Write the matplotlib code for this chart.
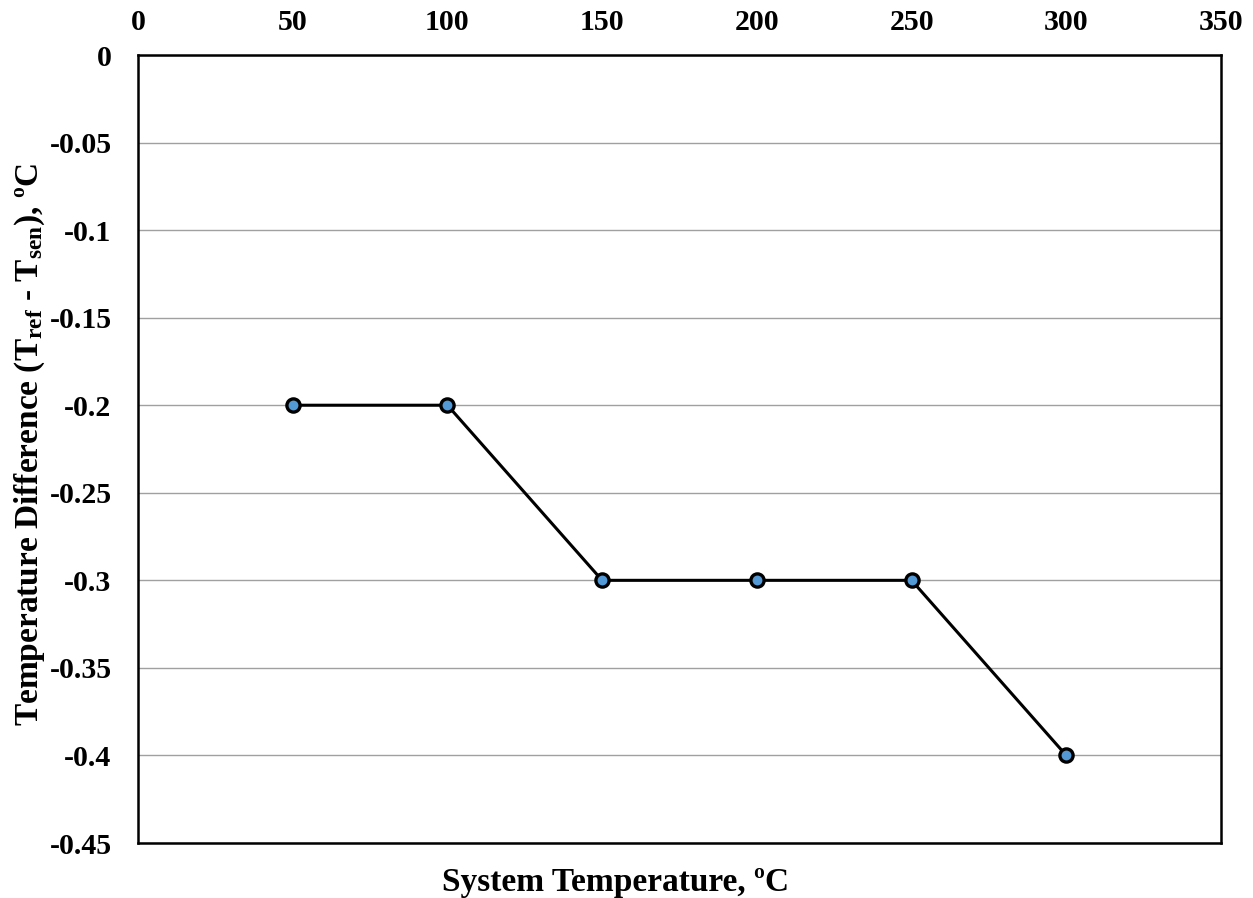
import matplotlib.pyplot as plt
import numpy as np

plt.rcParams['font.family'] = ['Liberation Serif', 'DejaVu Serif']
plt.rcParams['font.weight'] = 'bold'
plt.rcParams['mathtext.fontset'] = 'custom'
plt.rcParams['mathtext.rm'] = 'Liberation Serif:bold'
plt.rcParams['mathtext.it'] = 'Liberation Serif:bold'
plt.rcParams['mathtext.bf'] = 'Liberation Serif:bold'

# data
system_temp = [50, 100, 150, 200, 250, 300]
temp_diff = [-0.2, -0.2, -0.3, -0.3, -0.3, -0.4]
x_ticks = [0, 50, 100, 150, 200, 250, 300, 350]
y_ticks = [0, -0.05, -0.1, -0.15, -0.2, -0.25, -0.3, -0.35, -0.4, -0.45]
y_labels = ['0', '-0.05', '-0.1', '-0.15', '-0.2', '-0.25', '-0.3', '-0.35', '-0.4', '-0.45']

fig = plt.figure(figsize=(12.53, 8.98), dpi=100)
ax = fig.add_axes([138/1253, 1-843/898, (1221-138)/1253, (843-55)/898])

ax.plot(system_temp, temp_diff, color='black', lw=2.2, marker='o',
        markersize=9.5, markerfacecolor='#5399d6', markeredgecolor='black',
        markeredgewidth=2.4, zorder=3)

ax.set_xlim(0, 350)
ax.set_ylim(-0.45, 0)
ax.set_xticks(x_ticks)
ax.set_yticks(y_ticks)
ax.set_yticklabels(y_labels)
ax.xaxis.tick_top()
ax.tick_params(axis='both', length=0, labelsize=21.5)
ax.tick_params(axis='y', pad=19)
ax.tick_params(axis='x', pad=14)
ax.yaxis.grid(True, color='#a0a0a0', lw=1)
ax.set_axisbelow(True)
for s in ax.spines.values():
    s.set_linewidth(1.8)
    s.set_color('black')

ax.set_xlabel('System Temperature, ºC', fontsize=24, fontweight='bold')
ax.xaxis.set_label_position('bottom')
ax.xaxis.set_label_coords(0.441, -0.0495, transform=ax.transAxes)
ax.xaxis.label.set_verticalalignment('center')
ax.set_ylabel(r'Temperature Difference (T$_{\rm ref}$ - T$_{\rm sen}$), ºC',
              fontsize=24, fontweight='bold')
ax.yaxis.set_label_coords(-0.1, 0.505)
ax.yaxis.label.set_verticalalignment('center')

fig.savefig('out.png', dpi=100)
